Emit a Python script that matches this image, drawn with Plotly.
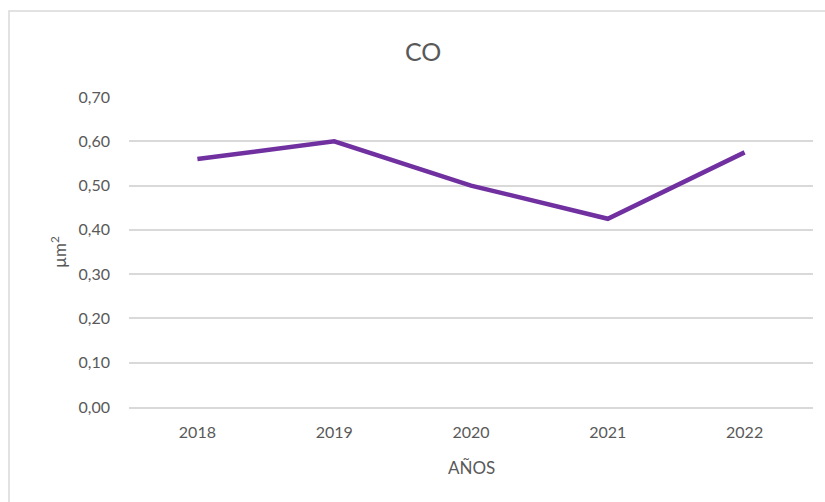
import plotly.graph_objects as go

years = ["2018", "2019", "2020", "2021", "2022"]
values = [0.56, 0.60, 0.50, 0.425, 0.575]
y_ticks = [0.0, 0.1, 0.2, 0.3, 0.4, 0.5, 0.6, 0.7]

W, H = 825, 502
L, R, T, B = 129, 12, 97, 95
pw, ph = W - L - R, H - T - B

def px(x):
    return (x - L) / pw

def py(y):
    return (H - B - y) / ph

font = "Lato, 'Open Sans', sans-serif"
grey = "#595959"

fig = go.Figure(go.Scatter(
    x=years, y=values, mode="lines",
    line=dict(color="#7030A0", width=4.5, shape="linear"),
    hoverinfo="skip",
))

fig.update_layout(
    width=W, height=H,
    margin=dict(l=L, r=R, t=T, b=B),
    paper_bgcolor="white", plot_bgcolor="white",
    separators=",.",
    showlegend=False,
    font=dict(family=font, color=grey, size=16),
    xaxis=dict(type="category", range=[-0.5, 4.5], showgrid=False, showline=True,
               linecolor="#d9d9d9", linewidth=1.5, ticks="",
               tickfont=dict(size=16, color=grey), ticklabelstandoff=10),
    yaxis=dict(range=[0, 0.7], tickvals=y_ticks, tickformat=".2f",
               showgrid=True, gridcolor="#d9d9d9", gridwidth=1.5,
               zeroline=False, showline=False, ticks="",
               tickfont=dict(size=16, color=grey), ticklabelstandoff=18),
    shapes=[dict(type="rect", xref="paper", yref="paper",
                 x0=px(9), x1=px(900), y0=py(600), y1=py(11),
                 line=dict(color="#d9d9d9", width=1.5), fillcolor="rgba(0,0,0,0)")],
    annotations=[
        dict(text="CO", x=px(423), y=py(51), xref="paper", yref="paper",
             xanchor="center", yanchor="middle",
             showarrow=False, font=dict(size=25, color=grey)),
        dict(text="AÑOS", x=px(471), y=py(467), xref="paper", yref="paper",
             xanchor="center", yanchor="middle",
             showarrow=False, font=dict(size=17, color=grey)),
        dict(text="µm<sup>2</sup>", x=px(58), y=py(252), xref="paper", yref="paper",
             xanchor="center", yanchor="middle",
             showarrow=False, textangle=-90, font=dict(size=17, color=grey)),
    ],
)

fig.write_html("out.html", config={"displayModeBar": False},
               post_script="document.body.style.margin='0';")
